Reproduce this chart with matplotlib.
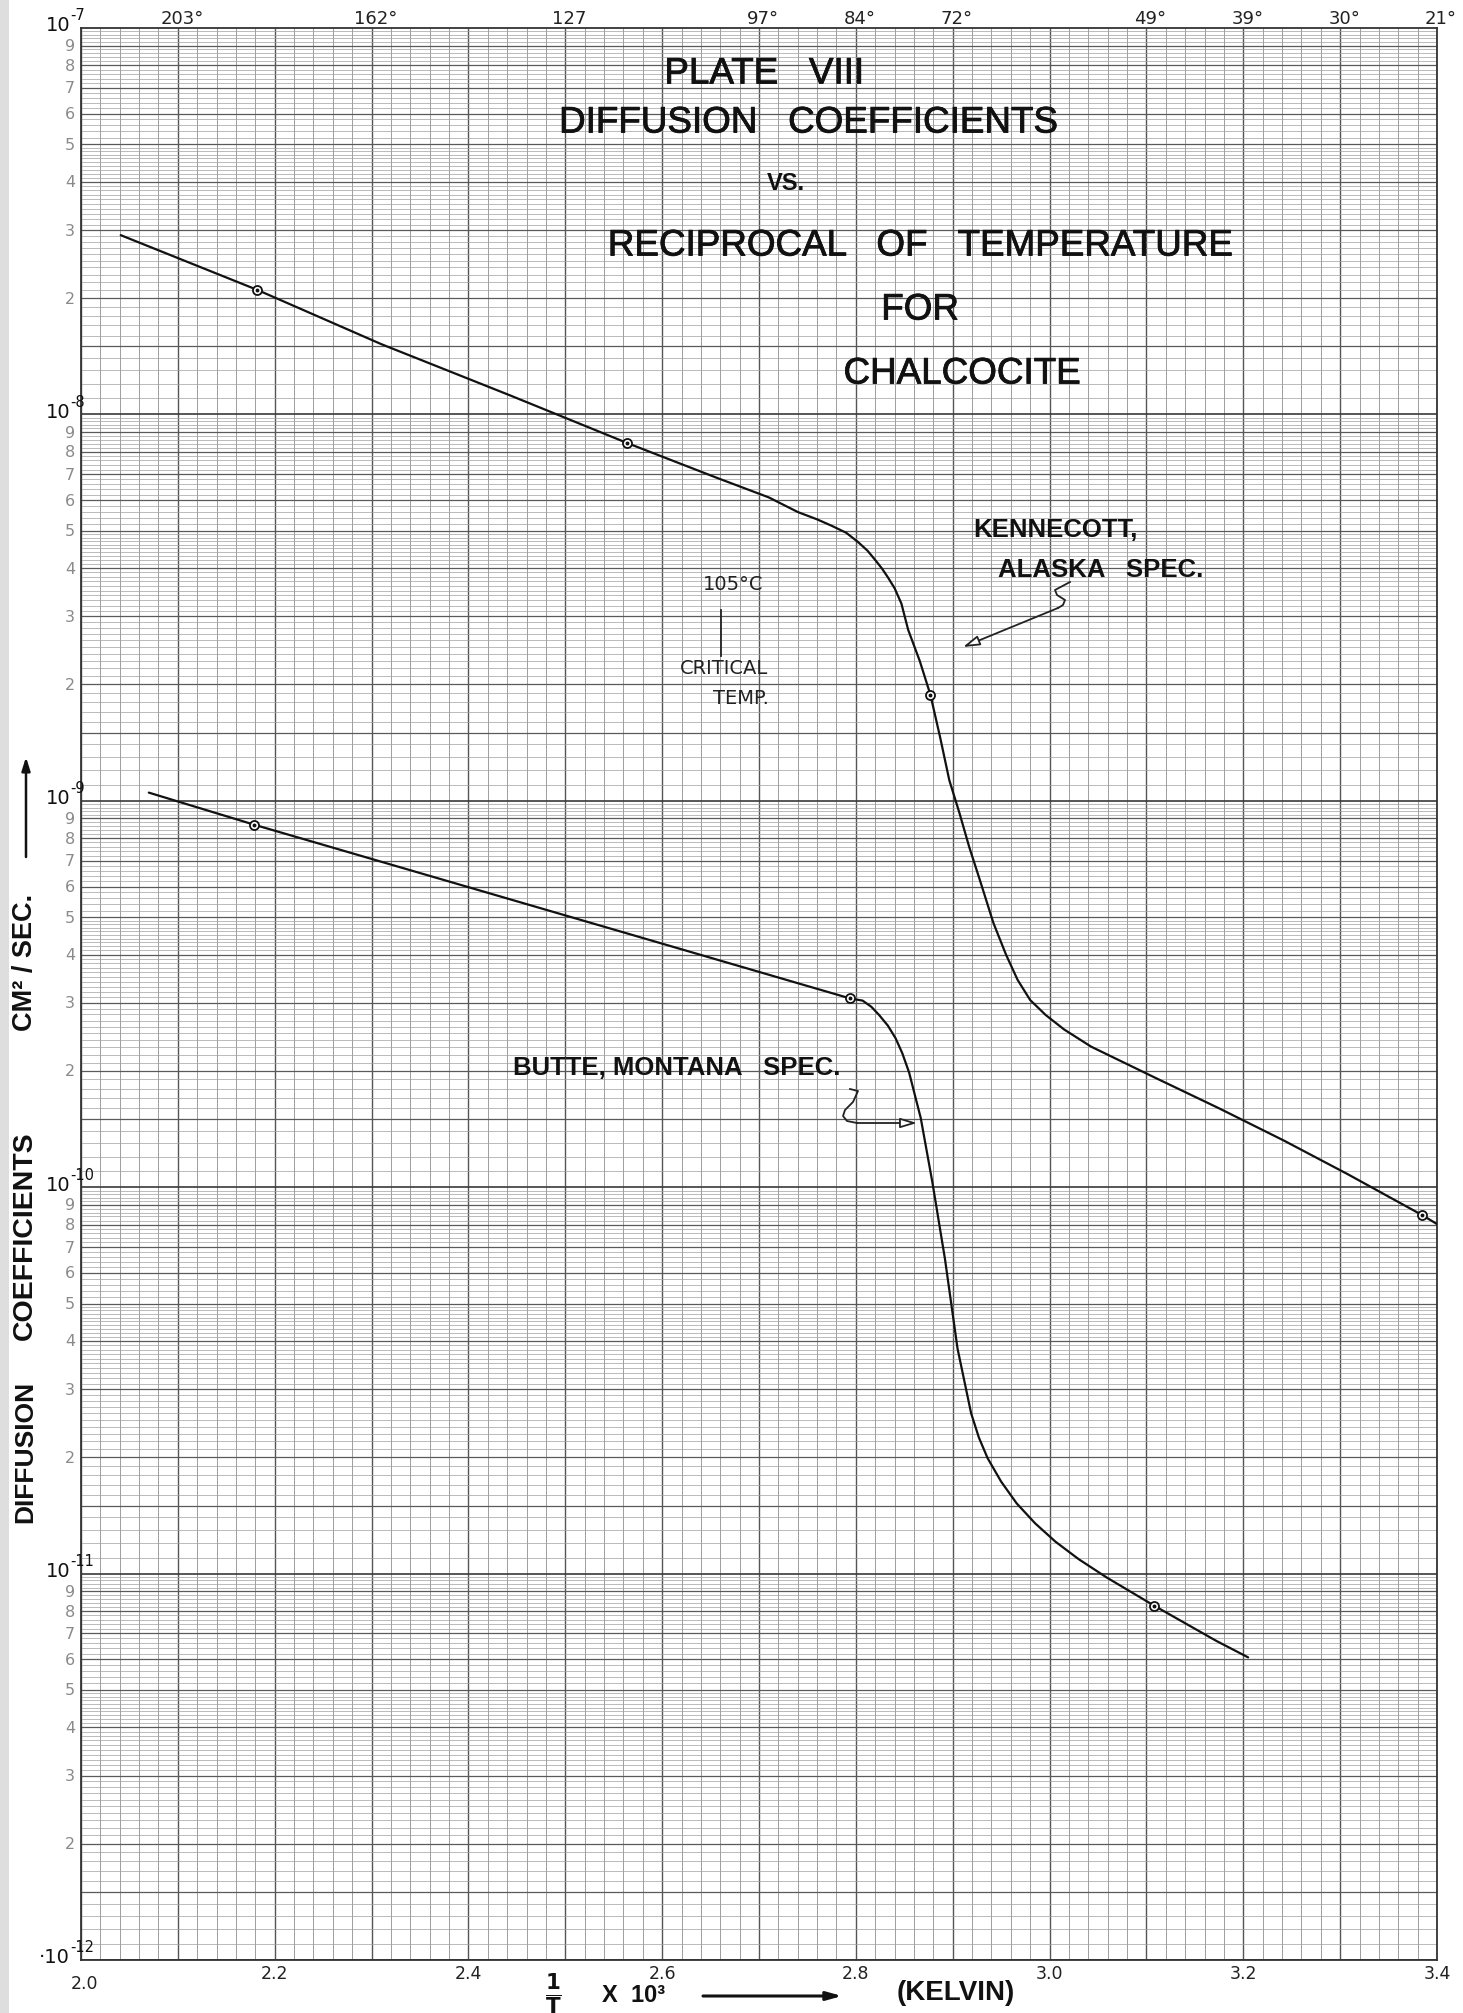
import matplotlib
matplotlib.use("Agg")
import matplotlib.pyplot as plt
import numpy as np
from matplotlib import font_manager
from matplotlib import patheffects as pe
from matplotlib.transforms import offset_copy
from matplotlib.lines import Line2D
from matplotlib.patches import Rectangle
from matplotlib.ticker import NullLocator

# ---------------- data (1/T x 10^3 , D in cm^2/sec) ----------------
kennecott_x = [2.041, 2.182, 2.310, 2.443, 2.564, 2.656, 2.710, 2.740, 2.760, 2.775,
               2.790, 2.802, 2.812, 2.820, 2.827, 2.833, 2.840, 2.847, 2.854, 2.866,
               2.877, 2.887, 2.8965, 2.907, 2.917, 2.928, 2.942, 2.955, 2.967, 2.980,
               2.996, 3.015, 3.043, 3.109, 3.175, 3.242, 3.308, 3.385, 3.401]
kennecott_d = [2.91e-8, 2.10e-8, 1.52e-8, 1.12e-8, 8.43e-9, 6.86e-9, 6.10e-9, 5.59e-9, 5.35e-9, 5.15e-9,
               4.94e-9, 4.68e-9, 4.44e-9, 4.20e-9, 3.99e-9, 3.79e-9, 3.55e-9, 3.24e-9, 2.77e-9, 2.30e-9,
               1.88e-9, 1.46e-9, 1.13e-9, 9.29e-10, 7.60e-10, 6.24e-10, 4.83e-10, 4.00e-10, 3.44e-10, 3.05e-10,
               2.79e-10, 2.56e-10, 2.31e-10, 1.92e-10, 1.60e-10, 1.32e-10, 1.08e-10, 8.46e-11, 8.0e-11]
kennecott_obs_x = [2.182, 2.564, 2.877, 3.385]
kennecott_obs_d = [2.10e-8, 8.43e-9, 1.88e-9, 8.46e-11]

butte_x = [2.070, 2.179, 2.794, 2.807, 2.816, 2.824, 2.833, 2.841, 2.848, 2.855,
           2.867, 2.879, 2.892, 2.905, 2.919, 2.927, 2.936, 2.950, 2.966, 2.985,
           3.006, 3.030, 3.059, 3.108, 3.172, 3.205]
butte_d = [1.05e-9, 8.67e-10, 3.08e-10, 3.04e-10, 2.93e-10, 2.79e-10, 2.62e-10, 2.43e-10, 2.22e-10, 1.98e-10,
           1.51e-10, 1.03e-10, 6.52e-11, 3.82e-11, 2.60e-11, 2.25e-11, 1.99e-11, 1.73e-11, 1.52e-11, 1.35e-11,
           1.21e-11, 1.09e-11, 9.77e-12, 8.26e-12, 6.70e-12, 6.07e-12]
butte_obs_x = [2.179, 2.794, 3.108]
butte_obs_d = [8.67e-10, 3.08e-10, 8.26e-12]

bottom_ticks = [2.0, 2.2, 2.4, 2.6, 2.8, 3.0, 3.2, 3.4]
bottom_labels = ["2.0", "2.2", "2.4", "2.6", "2.8", "3.0", "3.2", "3.4"]
top_ticks = [2.1, 2.3, 2.5, 2.7, 2.8, 2.9, 3.1, 3.2, 3.3, 3.4]
top_labels = ["203°", "162°", "127", "97°", "84°", "72°", "49°", "39°", "30°", "21°"]
decade_exps = [-7, -8, -9, -10, -11, -12]
decade_bases = ["10", "10", "10", "10", "10", "·10"]
digit_labels = ["2", "3", "4", "5", "6", "7", "8", "9"]

# ---------------- fonts ----------------
def has_font(name):
    try:
        font_manager.findfont(font_manager.FontProperties(family=name), fallback_to_default=False)
        return True
    except Exception:
        return False

if has_font("Liberation Sans Narrow"):
    TFAM, TSIZE = ["Liberation Sans Narrow", "DejaVu Sans"], 30
else:
    TFAM, TSIZE = ["Liberation Sans", "DejaVu Sans"], 26.5
BFAM = ["Liberation Sans", "DejaVu Sans"]
plt.rcParams["font.family"] = BFAM
plt.rcParams["mathtext.fontset"] = "dejavusans"

# ---------------- figure ----------------
W, H, DPI = 1463, 2013, 100
fig = plt.figure(figsize=(W / DPI, H / DPI), dpi=DPI, facecolor="white")
# faint scanner shadow along the left edge of the sheet
fig.add_artist(Rectangle((0, 0), 9 / W, 1, transform=fig.transFigure,
                         facecolor="#dedede", edgecolor="none", zorder=0))

L, R, T, B = 81, 1437, 28, 1960
ax = fig.add_axes([L / W, 1 - B / H, (R - L) / W, (B - T) / H])
ax.set_yscale("log")
ax.set_xlim(2.0, 3.4)
ax.set_ylim(1e-12, 1e-7)
ax.set_xticks([])
ax.set_yticks([])
ax.yaxis.set_minor_locator(NullLocator())
ax.xaxis.set_minor_locator(NullLocator())
for s in ax.spines.values():
    s.set_linewidth(1.3)
    s.set_color("#333333")

xtr = ax.get_xaxis_transform()
ytr = ax.get_yaxis_transform()

# ---- graph paper grid ----
vx_minor, vx_major = [], []
for k in range(71):
    xv = 2.0 + 0.02 * k
    (vx_major if k % 5 == 0 else vx_minor).append(xv)
ax.vlines(vx_minor, 0, 1, transform=xtr, colors="#979797", lw=0.65, zorder=1)
ax.vlines(vx_major, 0, 1, transform=xtr, colors="#555555", lw=1.0, zorder=1)

mant_minor = [1.1, 1.2, 1.3, 1.4, 1.6, 1.7, 1.8, 1.9]
mant_minor += [round(2.0 + 0.1 * i, 1) for i in range(30) if i % 10 != 0]
mant_minor += [round(5.0 + 0.2 * i, 1) for i in range(25) if i % 5 != 0]
mant_major = [1.5, 2, 3, 4, 5, 6, 7, 8, 9]
hy_minor, hy_major, hy_dec = [], [], []
for e in range(-12, -7):
    hy_minor += [m * 10.0 ** e for m in mant_minor]
    hy_major += [m * 10.0 ** e for m in mant_major]
    hy_dec.append(10.0 ** e)
ax.hlines(hy_minor, 0, 1, transform=ytr, colors="#a0a0a0", lw=0.5, zorder=1)
ax.hlines(hy_major, 0, 1, transform=ytr, colors="#5a5a5a", lw=0.9, zorder=1)
ax.hlines(hy_dec, 0, 1, transform=ytr, colors="#3a3a3a", lw=1.2, zorder=1)

# ---- curves ----
for xs, ds in ((kennecott_x, kennecott_d), (butte_x, butte_d)):
    ax.plot(xs, ds, color="#111111", lw=1.6, solid_joinstyle="round",
            solid_capstyle="round", zorder=5)
for xs, ds in ((kennecott_obs_x, kennecott_obs_d), (butte_obs_x, butte_obs_d)):
    ax.plot(xs, ds, ls="none", marker="o", ms=6.5, mfc="white", mec="#111111", mew=1.3, zorder=6)
    ax.plot(xs, ds, ls="none", marker="o", ms=1.8, mfc="#111111", mec="#111111", zorder=7)

# ---- left labels ----
dig_tr = offset_copy(ytr, fig=fig, x=-6, y=-1, units="dots")
for e in range(-12, -7):
    for lab in digit_labels:
        ax.text(0, int(lab) * 10.0 ** e, lab, transform=dig_tr, ha="right", va="center",
                color="#8a8a8a", fontsize=11.5, family="DejaVu Sans")
base_tr = offset_copy(ytr, fig=fig, x=-11, y=2, units="dots")
sup_tr = offset_copy(ytr, fig=fig, x=-11, y=12, units="dots")
for e, base in zip(decade_exps, decade_bases):
    ax.text(0, 10.0 ** e, base, transform=base_tr, ha="right", va="center",
            color="#111111", fontsize=14, family="DejaVu Sans")
    ax.text(0, 10.0 ** e, "-%d" % (-e), transform=sup_tr, ha="left", va="center",
            color="#111111", fontsize=10.5, family="DejaVu Sans")

# ---- bottom labels ----
bot_tr = offset_copy(xtr, fig=fig, x=0, y=-14, units="dots")
bot_tr0 = offset_copy(xtr, fig=fig, x=4, y=-24, units="dots")
for xv, lab in zip(bottom_ticks, bottom_labels):
    ax.text(xv, 0, lab, transform=(bot_tr0 if lab == "2.0" else bot_tr), ha="center",
            va="center", fontsize=12.5, color="#222222", family="DejaVu Sans")

# ---- top labels (deg C) ----
top_tr = offset_copy(xtr, fig=fig, x=4, y=9, units="dots")
for xv, lab in zip(top_ticks, top_labels):
    ax.text(xv, 1, lab, transform=top_tr, ha="center", va="center", fontsize=13,
            color="#222222", family="DejaVu Sans")

# ---- titles ----
def ftext(px, py, s, **kw):
    return fig.text(px / W, 1 - py / H, s, **kw)

thick = [pe.withStroke(linewidth=0.6, foreground="#111111")]
tkw = dict(ha="center", va="center", fontsize=TSIZE, family=TFAM, color="#111111",
           path_effects=thick)
ftext(764, 74, "PLATE   VIII", **tkw)
ftext(808, 123, "DIFFUSION   COEFFICIENTS", **tkw)
ftext(786, 183, "VS.", ha="center", va="center", fontsize=17, weight="bold", color="#111111")
ftext(920, 246, "RECIPROCAL   OF   TEMPERATURE", **tkw)
ftext(920, 310, "FOR", **tkw)
ftext(962, 374, "CHALCOCITE", **tkw)

# ---- annotations ----
bkw = dict(ha="left", va="center", fontsize=18.5, weight="bold", color="#111111")
ftext(973, 530, "KENNECOTT,", **bkw)
ftext(998, 570, "ALASKA   SPEC.", **bkw)
ftext(513, 1068, "BUTTE, MONTANA   SPEC.", **bkw)

hkw = dict(ha="center", va="center", fontsize=14, color="#222222", family="DejaVu Sans")
ftext(733, 584, "105°C", **hkw)
ftext(724, 668, "CRITICAL", **hkw)
ftext(741, 699, "TEMP.", **hkw)

def fline(pxs, pys, **kw):
    fig.add_artist(Line2D(np.array(pxs) / W, 1 - np.array(pys) / H,
                          transform=fig.transFigure, **kw))

fline([721, 721], [610, 656], color="#222222", lw=1.3)
# Kennecott squiggle + arrow
fline([1070, 1055, 1057, 1065, 1063, 1058], [582, 590, 595, 600, 605, 608], color="#222222", lw=1.3)
ax.annotate("", xy=(963, H - 647), xytext=(1058, H - 608), xycoords="figure pixels",
            textcoords="figure pixels",
            arrowprops=dict(arrowstyle="-|>,head_length=1.0,head_width=0.3", lw=1.3,
                            color="#222222", fc="white", shrinkA=0, shrinkB=0))
# Butte squiggle + arrow
fline([850, 858, 853, 845, 843, 847, 857], [1089, 1091, 1102, 1110, 1116, 1121, 1123],
      color="#222222", lw=1.3)
ax.annotate("", xy=(917, H - 1123), xytext=(857, H - 1123), xycoords="figure pixels",
            textcoords="figure pixels",
            arrowprops=dict(arrowstyle="-|>,head_length=1.0,head_width=0.3", lw=1.3,
                            color="#222222", fc="white", shrinkA=0, shrinkB=0))

# ---- y axis label ----
ykw = dict(ha="center", va="center", rotation=90, weight="bold", color="#111111")
ftext(25, 1452, "DIFFUSION", fontsize=19, **ykw)
ftext(25, 1236, "COEFFICIENTS", fontsize=20.5, **ykw)
ftext(25, 962, "CM² / SEC.", fontsize=19.5, **ykw)
ax.annotate("", xy=(26, H - 757), xytext=(26, H - 857), xycoords="figure pixels",
            textcoords="figure pixels",
            arrowprops=dict(arrowstyle="-|>,head_length=0.8,head_width=0.25", lw=1.8,
                            color="#111111", shrinkA=0, shrinkB=0))

# ---- x axis label ----
ftext(553, 1994, r"$\frac{\mathbf{1}}{\mathbf{T}}$", ha="center", va="center", fontsize=22,
      color="#111111")
ftext(634, 1995, "X  10³", ha="center", va="center", fontsize=17, weight="bold", color="#111111")
ax.annotate("", xy=(842, H - 1996), xytext=(703, H - 1996), xycoords="figure pixels",
            textcoords="figure pixels",
            arrowprops=dict(arrowstyle="-|>,head_length=0.9,head_width=0.25", lw=2.2,
                            color="#111111", shrinkA=0, shrinkB=0))
ftext(956, 1993, "(KELVIN)", ha="center", va="center", fontsize=20, weight="bold", color="#111111")

fig.savefig("out.png", dpi=DPI, facecolor="white")
